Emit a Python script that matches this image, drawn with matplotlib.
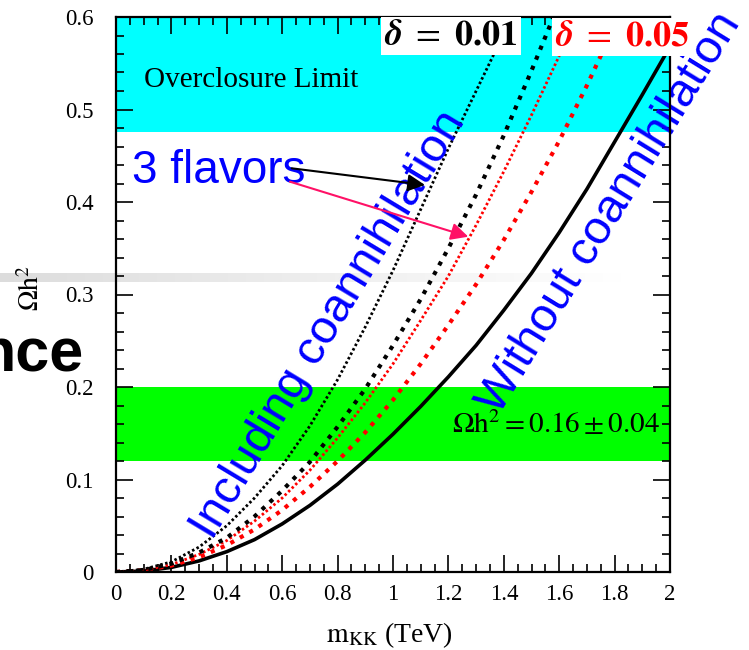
import numpy as np
import matplotlib
matplotlib.use("Agg")
import matplotlib.pyplot as plt

plt.rcParams['font.family'] = ['Liberation Serif', 'DejaVu Serif']
plt.rcParams['mathtext.fontset'] = 'stix'

# ---------------- data ----------------
m_kk = [0.0, 0.1, 0.2, 0.3, 0.4, 0.5, 0.6, 0.7, 0.8, 0.9, 1.0,
        1.1, 1.2, 1.3, 1.4, 1.5, 1.6, 1.7, 1.8, 1.9, 2.0]

# delta = 0.01, 3 flavors (black dotted)
omega_d001_3f = [0.0, 0.003, 0.011, 0.027, 0.050, 0.080, 0.115, 0.158, 0.208, 0.265, 0.326,
                 0.392, 0.458, 0.520, 0.582, 0.645]
# delta = 0.01 (black dashed)
omega_d001 = [0.0, 0.002, 0.009, 0.021, 0.037, 0.060, 0.088, 0.119, 0.157, 0.198, 0.245,
              0.295, 0.350, 0.408, 0.472, 0.542, 0.615]
# delta = 0.05, 3 flavors (red dotted)
omega_d005_3f = [0.0, 0.002, 0.008, 0.019, 0.034, 0.055, 0.080, 0.110, 0.145, 0.183, 0.225,
                 0.272, 0.320, 0.375, 0.433, 0.494, 0.558, 0.625]
# delta = 0.05 (red dashed)
omega_d005 = [0.0, 0.002, 0.007, 0.016, 0.029, 0.046, 0.067, 0.092, 0.120, 0.151, 0.186,
              0.225, 0.267, 0.311, 0.359, 0.411, 0.466, 0.526, 0.590, 0.655]
# without coannihilation (black solid)
omega_nocoann = [0.0, 0.001, 0.005, 0.012, 0.022, 0.035, 0.052, 0.072, 0.095, 0.121, 0.149,
                 0.179, 0.211, 0.245, 0.283, 0.323, 0.367, 0.414, 0.465, 0.516, 0.568]

overclosure_band = (0.476, 0.6)
wmap_band = (0.12, 0.20)

x_ticks = [0, 0.2, 0.4, 0.6, 0.8, 1.0, 1.2, 1.4, 1.6, 1.8, 2.0]
x_tick_labels = ["0", "0.2", "0.4", "0.6", "0.8", "1", "1.2", "1.4", "1.6", "1.8", "2"]
y_ticks = [0, 0.1, 0.2, 0.3, 0.4, 0.5, 0.6]
y_tick_labels = ["0", "0.1", "0.2", "0.3", "0.4", "0.5", "0.6"]

# ---------------- figure ----------------
W, H = 749, 650
fig = plt.figure(figsize=(W / 100, H / 100), dpi=100)
fig.patch.set_facecolor('white')

# faint grey slide artifact behind the plot
bg = fig.add_axes([0, (650 - 282) / 650, 640 / 749, 9 / 650], zorder=0)
grad = np.zeros((1, 256, 4))
grad[..., 3] = np.linspace(0.14, 0.0, 256) ** 1.0
bg.imshow(grad, aspect='auto', extent=[0, 1, 0, 1])
bg.set_axis_off()

L, R, T, B = 116, 670, 17, 572
ax = fig.add_axes([L / W, (H - B) / H, (R - L) / W, (B - T) / H], zorder=1)
ax.patch.set_alpha(0)
ax.set_xlim(0, 2)
ax.set_ylim(0, 0.6)

ax.axhspan(*overclosure_band, color='#00ffff', lw=0, zorder=0.5)
ax.axhspan(*wmap_band, color='#00ff00', lw=0, zorder=0.5)

def n(vals):
    return m_kk[:len(vals)]

ax.plot(n(omega_nocoann), omega_nocoann, color='black', lw=2.6, zorder=3)
ax.plot(n(omega_d005), omega_d005, color='red', lw=3.0,
        linestyle=(0, (1.0, 1.6)), zorder=3)
ax.plot(n(omega_d005_3f), omega_d005_3f, color='red', lw=2.0,
        linestyle=(0, (0.9, 0.9)), zorder=3)
ax.plot(n(omega_d001), omega_d001, color='black', lw=3.0,
        linestyle=(0, (1.0, 1.6)), zorder=3)
ax.plot(n(omega_d001_3f), omega_d001_3f, color='black', lw=2.0,
        linestyle=(0, (0.9, 0.9)), zorder=3)

# ticks
ax.set_xticks(x_ticks)
ax.set_xticklabels(x_tick_labels)
ax.set_yticks(y_ticks)
ax.set_yticklabels(y_tick_labels)
ax.set_xticks(np.arange(0, 2.0001, 0.05), minor=True)
ax.set_yticks(np.arange(0, 0.6001, 0.02), minor=True)
ax.tick_params(which='both', direction='in', top=True, right=True, width=1.2,
               labelsize=16.5)
ax.tick_params(which='major', length=12)
ax.tick_params(which='minor', length=6)
ax.tick_params(axis='y', pad=16)
ax.tick_params(axis='x', pad=9)
for s in ax.spines.values():
    s.set_linewidth(1.6)
    s.set_zorder(6)

def px(xp, yp):
    return ((xp - L) / (R - L) * 2.0, (B - yp) / (B - T) * 0.6)

# texts
ax.text(*px(144, 86.7), "Overclosure Limit", fontsize=21, va='baseline',
        ha='left', zorder=4)
ax.text(*px(660, 433), r"$\mathrm{\Omega h}^2 = 0.16 \pm 0.04$", fontsize=21,
        va='baseline', ha='right', zorder=4)

ax.text(*px(329, 325), "Including coannihilation", family=['Liberation Sans'],
        fontsize=34, color='blue', rotation=58.9, rotation_mode='anchor',
        ha='center', va='center', zorder=5, clip_on=False)
ax.text(*px(610, 213), "Without coannihilation", family=['Liberation Sans'],
        fontsize=34, color='blue', rotation=58.4, rotation_mode='anchor',
        ha='center', va='center', zorder=5, clip_on=False)
ax.text(*px(132, 183), "3 flavors", family=['Liberation Sans'], fontsize=33,
        color='blue', va='baseline', ha='left', zorder=5)

ax.annotate('', xy=px(425, 185), xytext=px(291.7, 168.3),
            arrowprops=dict(arrowstyle='-|>', color='black', lw=1.5,
                            mutation_scale=26, shrinkA=0, shrinkB=0), zorder=5)
ax.annotate('', xy=px(468.3, 236.7), xytext=px(290, 181.7),
            arrowprops=dict(arrowstyle='-|>', color='#ff1166', lw=1.5,
                            mutation_scale=26, shrinkA=0, shrinkB=0), zorder=5)

ax.text(*px(451, 36), r"$\boldsymbol{\delta}\ =\ \mathbf{0.01}$", fontsize=26,
        color='black', ha='center', va='center', zorder=7, clip_on=False,
        bbox=dict(facecolor='white', edgecolor='none', pad=2))
ax.text(*px(622, 37), r"$\boldsymbol{\delta}\ =\ \mathbf{0.05}$", fontsize=26,
        color='red', ha='center', va='center', zorder=7, clip_on=False,
        bbox=dict(facecolor='white', edgecolor='none', pad=2))

# axis labels
fig.text(389 / W, (H - 642) / H, r"$\mathrm{m_{KK}}$ (TeV)", fontsize=20,
         ha='center', va='baseline')
fig.text(32 / W, (H - 288) / H, r"$\mathrm{\Omega h}^2$", fontsize=20,
         ha='center', va='center', rotation=90)

# cut-off slide title fragment
fig.text(84 / W, (H - 372) / H, "nce", family=['Liberation Sans'],
         fontweight='bold', fontsize=44, ha='right', va='baseline')

fig.savefig("out.png", dpi=100)
